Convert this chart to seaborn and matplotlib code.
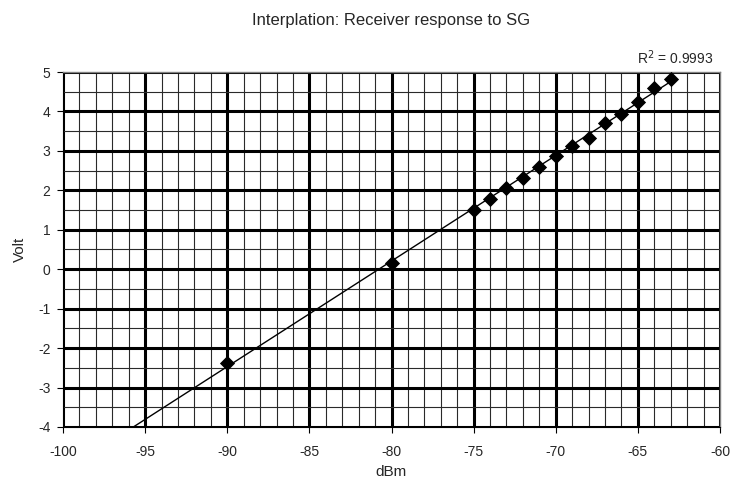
import numpy as np
import pandas as pd
import matplotlib
matplotlib.use("Agg")
import matplotlib.pyplot as plt
import seaborn as sns

# ---- data ----
dbm = [-90, -80, -75, -74, -73, -72, -71, -70, -69, -68, -67, -66, -65, -64, -63]
volt = [-2.38, 0.17, 1.51, 1.78, 2.07, 2.32, 2.59, 2.88, 3.13, 3.33, 3.71, 3.94, 4.25, 4.59, 4.82]
r2_text = "0.9993"
x_ticks = [-100, -95, -90, -85, -80, -75, -70, -65, -60]
y_ticks = [-4, -3, -2, -1, 0, 1, 2, 3, 4, 5]
title = "Interplation: Receiver response to SG"
x_label = "dBm"
y_label = "Volt"

df = pd.DataFrame({"dBm": dbm, "Volt": volt})

sns.set_style("white")
plt.rcParams["font.family"] = ["Liberation Sans", "DejaVu Sans"]

fig = plt.figure(figsize=(7.36, 4.96), dpi=100)
ax = fig.add_axes([63 / 736, 1 - 427 / 496, (720 - 63) / 736, (427 - 72) / 496])

ax.set_xlim(x_ticks[0], x_ticks[-1])
ax.set_ylim(y_ticks[0], y_ticks[-1])

# grid
ax.set_xticks(x_ticks)
ax.set_yticks(y_ticks)
ax.set_xticks(np.arange(x_ticks[0], x_ticks[-1] + 1, 1), minor=True)
ax.set_yticks(np.arange(y_ticks[0], y_ticks[-1] + 0.01, 0.5), minor=True)
ax.grid(which="minor", color="#2a2a2a", linewidth=0.8, zorder=0)
ax.grid(which="major", color="black", linewidth=2.2, zorder=0)
ax.set_axisbelow(True)

# trendline (linear fit of the data)
coef = np.polyfit(df["dBm"], df["Volt"], 1)
fx = np.array([x_ticks[0], max(dbm)])
fit_df = pd.DataFrame({"dBm": fx, "Volt": np.polyval(coef, fx)})
sns.lineplot(data=fit_df, x="dBm", y="Volt", ax=ax, color="black", linewidth=1.0, zorder=3)

sns.scatterplot(data=df, x="dBm", y="Volt", ax=ax, marker="D", s=60, color="black",
                edgecolor="black", linewidth=0, zorder=4)

for side in ["top", "right"]:
    ax.spines[side].set_color("#808080")
    ax.spines[side].set_linewidth(1.0)
for side in ["left", "bottom"]:
    ax.spines[side].set_color("black")
    ax.spines[side].set_linewidth(0.8)

ax.tick_params(which="major", direction="out", length=4, width=0.8, color="black",
               labelsize=10, bottom=True, left=True)
ax.tick_params(axis="x", which="major", pad=9)
ax.tick_params(axis="y", which="major", pad=5)
ax.tick_params(which="minor", length=0)
ax.set_xticklabels([str(t) for t in x_ticks])
ax.set_yticklabels([str(t) for t in y_ticks])

ax.set_xlabel(x_label, fontsize=11, labelpad=4)
ax.set_ylabel(y_label, fontsize=11, labelpad=8)
fig.text(391 / 736, 1 - 21 / 496, title, fontsize=12, ha="center", va="center")
ax.text(0.99, 1.015, "R$^2$ = " + r2_text, transform=ax.transAxes, ha="right", va="bottom",
        fontsize=10)

fig.savefig("out.png", dpi=100)
